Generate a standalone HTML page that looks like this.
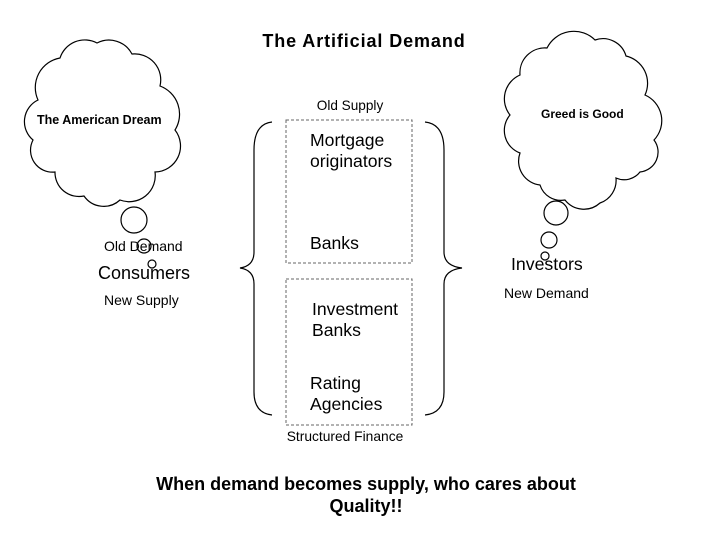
<!DOCTYPE html>
<html><head><meta charset="utf-8"><style>
html,body{margin:0;padding:0;background:#fff}
svg{display:block}
text{font-family:"Liberation Sans",sans-serif;fill:#000}
</style></head><body>
<svg width="728" height="546" viewBox="0 0 728 546" xmlns="http://www.w3.org/2000/svg">
<g fill="#fff" stroke="#000" stroke-width="1.2">
<path d="M60,58 A26,26 0 0 1 97,43 A26,26 0 0 1 132,54 A26,26 0 0 1 160,86 A30,30 0 0 1 175,130 A26,26 0 0 1 155,172 A26,26 0 0 1 120,200 A24,24 0 0 1 84,196 A24,24 0 0 1 55,172 A22,22 0 0 1 33,140 A24,24 0 0 1 38,100 A30,30 0 0 1 60,58 Z"/>
<circle cx="134" cy="220" r="13"/>
<circle cx="144" cy="246" r="7"/>
<circle cx="152" cy="264" r="4"/>
<path d="M520,75 A25,25 0 0 1 547,48 A30,30 0 0 1 595,40 A24,24 0 0 1 626,56 A28,28 0 0 1 645,95 A28,28 0 0 1 654,140 A20,20 0 0 1 640,172 A20,20 0 0 1 616,178 A24,24 0 0 1 600,203 A24,24 0 0 1 565,200 A22,22 0 0 1 540,185 A24,24 0 0 1 520,153 A24,24 0 0 1 510,115 A26,26 0 0 1 520,75 Z"/>
<circle cx="556" cy="213" r="12"/>
<circle cx="549" cy="240" r="8"/>
<circle cx="545" cy="256" r="4"/>
</g>
<g fill="none" stroke="#666" stroke-width="1" stroke-dasharray="3,2">
<rect x="286" y="120" width="126" height="143"/>
<rect x="286" y="279" width="126" height="146"/>
</g>
<g fill="none" stroke="#000" stroke-width="1.2">
<path d="M272,122 Q254,124 254,150 L254,252 Q254,266 240,268 Q254,270 254,284 L254,392 Q254,413 272,415"/>
<path d="M425,122 Q444,124 444,150 L444,252 Q444,266 462,268 Q444,270 444,284 L444,392 Q444,413 425,415"/>
</g>
<text x="364" y="47" font-size="18" font-weight="bold" letter-spacing="0.9" text-anchor="middle">The Artificial Demand</text>
<text x="350" y="110" font-size="13.6" text-anchor="middle">Old Supply</text>
<text x="310" y="146" font-size="17.6">Mortgage</text>
<text x="310" y="167" font-size="17.6">originators</text>
<text x="310" y="249" font-size="17.6">Banks</text>
<text x="312" y="315" font-size="17.6">Investment</text>
<text x="312" y="336" font-size="17.6">Banks</text>
<text x="310" y="389" font-size="17.6">Rating</text>
<text x="310" y="410" font-size="17.6">Agencies</text>
<text x="345" y="441" font-size="13.8" text-anchor="middle">Structured Finance</text>
<text x="37" y="124" font-size="12.5" font-weight="bold">The American Dream</text>
<text x="541" y="118" font-size="12" font-weight="bold">Greed is Good</text>
<text x="104" y="251" font-size="14">Old Demand</text>
<text x="98" y="279" font-size="18">Consumers</text>
<text x="104" y="305" font-size="14">New Supply</text>
<text x="511" y="270" font-size="17.7">Investors</text>
<text x="504" y="298" font-size="14">New Demand</text>
<text x="366" y="490" font-size="18" font-weight="bold" text-anchor="middle">When demand becomes supply, who cares about</text>
<text x="366" y="512" font-size="18" font-weight="bold" text-anchor="middle">Quality!!</text>
</svg>
</body></html>
